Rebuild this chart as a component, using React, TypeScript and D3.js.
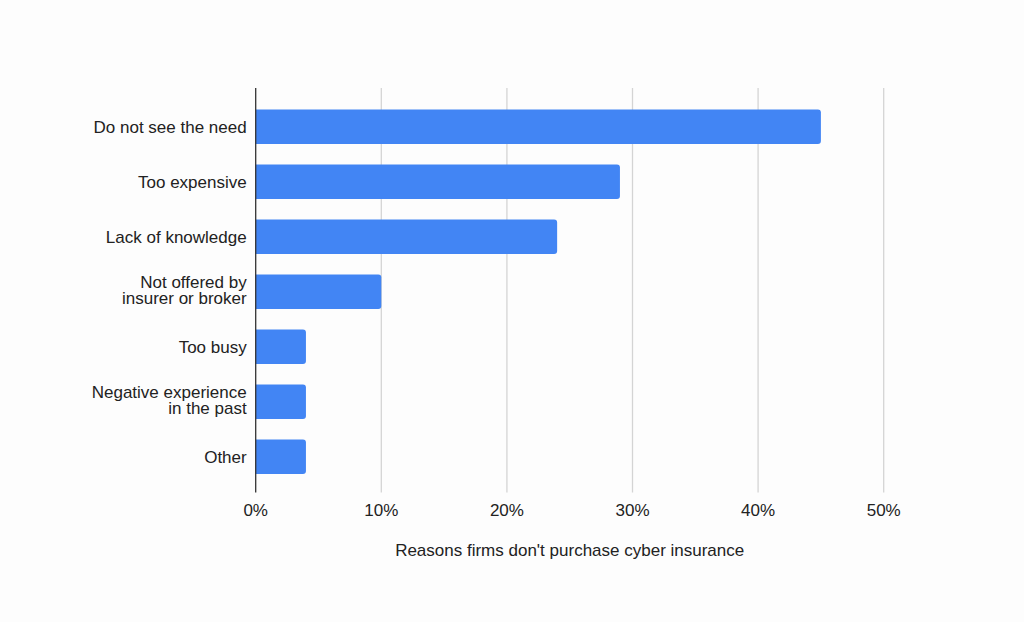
import * as d3 from "d3";
import { useEffect, useRef } from "react";

const reasons: string[][] = [
  ["Do not see the need"],
  ["Too expensive"],
  ["Lack of knowledge"],
  ["Not offered by", "insurer or broker"],
  ["Too busy"],
  ["Negative experience", "in the past"],
  ["Other"],
];
const shares = [45, 29, 24, 10, 4, 4, 4];
const ticks = [0, 10, 20, 30, 40, 50];
const axisTitle = "Reasons firms don't purchase cyber insurance";

export default function App() {
  const svgRef = useRef<SVGSVGElement | null>(null);

  useEffect(() => {
    if (!svgRef.current) return;
    const width = 1024;
    const height = 622;
    const plotTop = 88;
    const plotBottom = 492.5;
    const font = "'Liberation Sans', Arial, sans-serif";
    const fontSize = 17;
    const textColor = "#222";

    const x = d3.scaleLinear().domain([0, 50]).range([255.7, 883.7]);
    const keys = reasons.map((r) => r.join(" "));
    const y = d3
      .scaleBand<string>()
      .domain(keys)
      .range([99.2, 484.2])
      .paddingInner(0.37)
      .paddingOuter(0.185);

    const svg = d3.select(svgRef.current);
    svg.selectAll("*").remove();
    svg.attr("width", width).attr("height", height);

    svg
      .append("rect")
      .attr("width", width)
      .attr("height", height)
      .attr("fill", "#fdfdfd");

    // gridlines
    svg
      .append("g")
      .selectAll("line")
      .data(ticks.filter((t) => t > 0))
      .enter()
      .append("line")
      .attr("x1", (d) => x(d))
      .attr("x2", (d) => x(d))
      .attr("y1", plotTop)
      .attr("y2", plotBottom)
      .attr("stroke", "#d4d4d4")
      .attr("stroke-width", 1.3);

    // bars, rounded on the right end
    const r = 3;
    svg
      .append("g")
      .selectAll("path")
      .data(shares)
      .enter()
      .append("path")
      .attr("fill", "#4285f4")
      .attr("d", (d, i) => {
        const x0 = x(0);
        const x1 = x(d);
        const y0 = y(keys[i])!;
        const h = y.bandwidth();
        return `M${x0},${y0}H${x1 - r}Q${x1},${y0} ${x1},${y0 + r}V${y0 + h - r}Q${x1},${y0 + h} ${x1 - r},${y0 + h}H${x0}Z`;
      });

    // zero axis line
    svg
      .append("line")
      .attr("x1", x(0))
      .attr("x2", x(0))
      .attr("y1", plotTop)
      .attr("y2", plotBottom)
      .attr("stroke", "#333")
      .attr("stroke-width", 1.3);

    // tick labels
    svg
      .append("g")
      .selectAll("text")
      .data(ticks)
      .enter()
      .append("text")
      .attr("x", (d) => x(d))
      .attr("y", 515.5)
      .attr("text-anchor", "middle")
      .attr("font-family", font)
      .attr("font-size", fontSize)
      .attr("fill", textColor)
      .text((d) => `${d}%`);

    // category labels
    const labels = svg
      .append("g")
      .selectAll("text")
      .data(reasons)
      .enter()
      .append("text")
      .attr("text-anchor", "end")
      .attr("font-family", font)
      .attr("font-size", fontSize)
      .attr("fill", textColor);

    labels.each(function (lines, i) {
      const cy = y(keys[i])! + y.bandwidth() / 2;
      const t = d3.select(this);
      if (lines.length === 1) {
        t.append("tspan").attr("x", 246.7).attr("y", cy + 5.8).text(lines[0]);
      } else {
        lines.forEach((line, j) => {
          t.append("tspan")
            .attr("x", 246.7)
            .attr("y", cy - 4.2 + j * 16.8)
            .text(line);
        });
      }
    });

    // axis title
    svg
      .append("text")
      .attr("x", (x(0) + x(50)) / 2)
      .attr("y", 555.5)
      .attr("text-anchor", "middle")
      .attr("font-family", font)
      .attr("font-size", fontSize)
      .attr("fill", textColor)
      .text(axisTitle);
  }, []);

  return (
    <div style={{ position: "fixed", left: 0, top: 0 }}>
      <svg ref={svgRef} style={{ display: "block" }} />
    </div>
  );
}
